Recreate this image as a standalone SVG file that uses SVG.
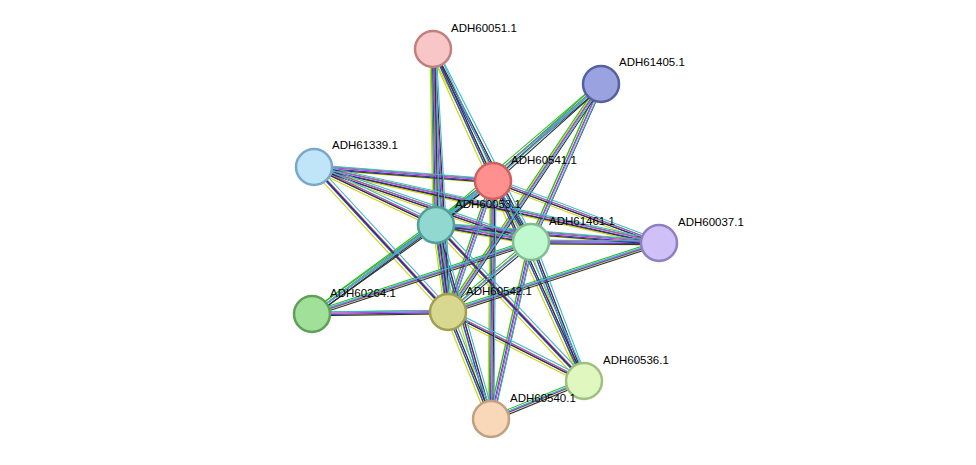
<svg xmlns="http://www.w3.org/2000/svg" xmlns:xlink="http://www.w3.org/1999/xlink" width="976" height="465" viewBox="0 0 976 465">
<style>
.n{stroke-width:2.5}
text{font-family:"Liberation Sans",Arial,sans-serif;font-size:11.5px;fill:#000}
#e line{stroke-width:1.1}
</style>
<defs>
<g id="e">
<line x1="433" y1="49" x2="493" y2="181"/><line x1="433" y1="49" x2="436" y2="225"/><line x1="433" y1="49" x2="531" y2="242"/><line x1="433" y1="49" x2="448" y2="312"/>
<line x1="601" y1="84" x2="493" y2="181"/><line x1="601" y1="84" x2="436" y2="225"/><line x1="601" y1="84" x2="531" y2="242"/><line x1="601" y1="84" x2="448" y2="312"/>
<line x1="314" y1="167" x2="493" y2="181"/><line x1="314" y1="167" x2="436" y2="225"/><line x1="314" y1="167" x2="531" y2="242"/><line x1="314" y1="167" x2="448" y2="312"/><line x1="314" y1="167" x2="659" y2="243"/>
<line x1="493" y1="181" x2="436" y2="225"/><line x1="493" y1="181" x2="531" y2="242"/><line x1="493" y1="181" x2="659" y2="243"/><line x1="493" y1="181" x2="312" y2="314"/><line x1="493" y1="181" x2="448" y2="312"/><line x1="493" y1="181" x2="584" y2="381"/><line x1="493" y1="181" x2="491" y2="419"/>
<line x1="436" y1="225" x2="531" y2="242"/><line x1="436" y1="225" x2="659" y2="243"/><line x1="436" y1="225" x2="312" y2="314"/><line x1="436" y1="225" x2="448" y2="312"/><line x1="436" y1="225" x2="584" y2="381"/><line x1="436" y1="225" x2="491" y2="419"/>
<line x1="531" y1="242" x2="659" y2="243"/><line x1="531" y1="242" x2="312" y2="314"/><line x1="531" y1="242" x2="448" y2="312"/><line x1="531" y1="242" x2="584" y2="381"/><line x1="531" y1="242" x2="491" y2="419"/>
<line x1="659" y1="243" x2="448" y2="312"/><line x1="312" y1="314" x2="448" y2="312"/>
<line x1="448" y1="312" x2="584" y2="381"/><line x1="448" y1="312" x2="491" y2="419"/><line x1="584" y1="381" x2="491" y2="419"/>
</g>
</defs>
<rect width="976" height="465" fill="#fff"/>
<g id="connectors">
<use xlink:href="#e" stroke="#ccd400" transform="translate(-3,2)"/>
<use xlink:href="#e" stroke="#20c020" transform="translate(-1.8,-1.8)"/>
<use xlink:href="#e" stroke="#3040e0" transform="translate(-0.6,0.6)"/>
<use xlink:href="#e" stroke="#d040d0" transform="translate(0.6,-0.6)"/>
<use xlink:href="#e" stroke="#303030" transform="translate(1.8,1.8)"/>
<use xlink:href="#e" stroke="#40b8d0" transform="translate(3,-2)"/>
</g>
<g id="ADH60051.1"><circle class="n" cx="433" cy="49" r="18" fill="#f8c6c6" stroke="#c08080"/><text x="451" y="32">ADH60051.1</text></g>
<g id="ADH61405.1"><circle class="n" cx="601" cy="84" r="18" fill="#9aa3e0" stroke="#5560a0"/><text x="619" y="66">ADH61405.1</text></g>
<g id="ADH61339.1"><circle class="n" cx="314" cy="167" r="18" fill="#c0e4f8" stroke="#7aa8c8"/><text x="332" y="149">ADH61339.1</text></g>
<g id="ADH60541.1"><circle class="n" cx="493" cy="181" r="18" fill="#ff9090" stroke="#d06060"/><text x="511" y="164">ADH60541.1</text></g>
<g id="ADH60053.1"><circle class="n" cx="436" cy="225" r="18" fill="#90d8d0" stroke="#50a098"/><text x="455" y="208">ADH60053.1</text></g>
<g id="ADH61461.1"><circle class="n" cx="531" cy="242" r="18" fill="#c0f8d0" stroke="#80c090"/><text x="549" y="225">ADH61461.1</text></g>
<g id="ADH60037.1"><circle class="n" cx="659" cy="243" r="18" fill="#d0c0f8" stroke="#9080c0"/><text x="678" y="226">ADH60037.1</text></g>
<g id="ADH60264.1"><circle class="n" cx="312" cy="314" r="18" fill="#a0e098" stroke="#60a058"/><text x="330" y="297">ADH60264.1</text></g>
<g id="ADH60542.1"><circle class="n" cx="448" cy="312" r="18" fill="#d8d890" stroke="#a0a050"/><text x="466" y="295">ADH60542.1</text></g>
<g id="ADH60536.1"><circle class="n" cx="584" cy="381" r="18" fill="#e0f8c0" stroke="#a0c080"/><text x="603" y="364">ADH60536.1</text></g>
<g id="ADH60540.1"><circle class="n" cx="491" cy="419" r="18" fill="#f8d8b8" stroke="#c0a080"/><text x="510" y="402">ADH60540.1</text></g>
</svg>
